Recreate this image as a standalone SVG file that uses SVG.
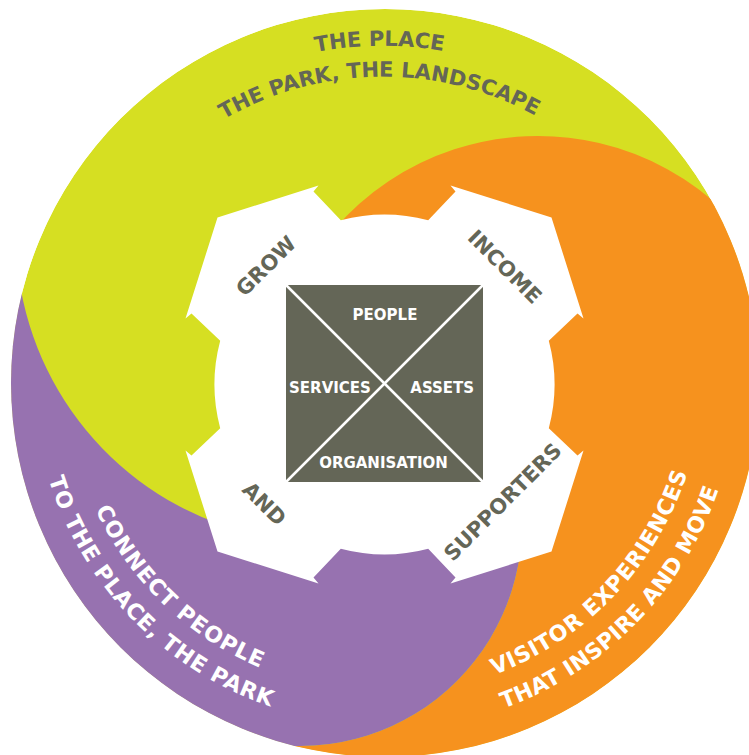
<svg xmlns="http://www.w3.org/2000/svg" width="749" height="755" viewBox="0 0 749 755">
<style>
.t{font-family:'DejaVu Sans','Liberation Sans',sans-serif;font-weight:bold}
.gray{fill:#646657}
.white{fill:#ffffff}
.ring{font-size:21px}
.ringb{font-size:22px}
.gl{font-size:21px}
.sq{font-size:15px}
</style>
<defs>
<clipPath id="disk"><circle cx="385" cy="383" r="374"/></clipPath>
<path id="pt1" d="M34.75,367.9 A349.3,349.3 0 0 1 730.66,361.22"/>
<path id="pt2" d="M65.59,371.13 A318.3,318.3 0 0 1 699.73,363.39"/>
<path id="pbl1" d="M135.46,176.18 A317.5,317.5 0 0 0 592.34,613.71"/>
<path id="pbl2" d="M117.42,146.5 A350.4,350.4 0 0 0 604.94,646.15"/>
<path id="pbr1" d="M183.17,624.43 A319.6,319.6 0 0 0 623.13,164.07"/>
<path id="pbr2" d="M157.74,648.86 A354.6,354.6 0 0 0 652.44,144.47"/>
</defs>
<rect width="749" height="755" fill="#ffffff"/>
<g id="rings" clip-path="url(#disk)">
<circle id="ring-green" cx="385" cy="383" r="374" fill="#d6df22"/>
<path id="ring-orange" fill="#f6921e" d="M294.2,291.3 A269,269 0 0 1 770.96,270.5 L900,270 L900,900 L261.45,900 L261.45,742.63 A222,222 0 0 0 518.63,485.45 L384.5,384.5 Z"/>
<path id="ring-purple" fill="#9772b0" d="M384.5,384.5 L518.63,485.45 A222,222 0 0 1 261.45,742.63 L261.45,900 L-100,900 L-100,277 L18.99,277.73 A307,307 0 0 0 269.69,537.34 Z"/>
</g>
<g id="gear">
<path fill="#ffffff" d="M340.8,220.2 A170,170 0 0 1 428.2,220.2 L455.5,191.5 L450.5,185.5 L551.5,217.5 L583.5,318.5 L577.5,313.5 L548.8,340.8 A170,170 0 0 1 548.8,428.2 L577.5,455.5 L583.5,450.5 L551.5,551.5 L450.5,583.5 L455.5,577.5 L428.2,548.8 A170,170 0 0 1 340.8,548.8 L313.5,577.5 L318.5,583.5 L217.5,551.5 L185.5,450.5 L191.5,455.5 L220.2,428.2 A170,170 0 0 1 220.2,340.8 L191.5,313.5 L185.5,318.5 L217.5,217.5 L318.5,185.5 L313.5,191.5 Z"/>
</g>
<g id="label-place">
<text class="t ring gray"><textPath href="#pt1" startOffset="50%" text-anchor="middle">THE PLACE</textPath></text>
<text class="t ring gray"><textPath href="#pt2" startOffset="50%" text-anchor="middle">THE PARK, THE LANDSCAPE</textPath></text>
</g>
<g id="label-connect">
<text class="t ringb white" letter-spacing="1"><textPath href="#pbl1" startOffset="50%" text-anchor="middle">CONNECT PEOPLE</textPath></text>
<text class="t ringb white" letter-spacing="0.8"><textPath href="#pbl2" startOffset="50%" text-anchor="middle">TO THE PLACE, THE PARK</textPath></text>
</g>
<g id="label-visitor">
<text class="t ringb white" letter-spacing="0.7"><textPath href="#pbr1" startOffset="50%" text-anchor="middle">VISITOR EXPERIENCES</textPath></text>
<text class="t ringb white" letter-spacing="0.3"><textPath href="#pbr2" startOffset="50%" text-anchor="middle">THAT INSPIRE AND MOVE</textPath></text>
</g>
<g id="gear-labels" class="t gl gray" text-anchor="middle">
<text id="grow" transform="translate(265.8,265.8) rotate(-45)" y="7.6">GROW</text>
<text id="income" transform="translate(505,266.5) rotate(45)" y="7.6">INCOME</text>
<text id="supporters" transform="translate(502.5,501.7) rotate(-45)" y="7.6">SUPPORTERS</text>
<text id="and" transform="translate(264.5,503.5) rotate(45)" y="7.6">AND</text>
</g>
<g id="core">
<rect x="286" y="285" width="197" height="197" fill="#646657"/>
<g stroke="#ffffff" stroke-width="2.5">
<line x1="286" y1="285" x2="483" y2="482"/>
<line x1="483" y1="285" x2="286" y2="482"/>
</g>
<g class="t sq white" text-anchor="middle">
<text x="385" y="319.5">PEOPLE</text>
<text x="330" y="393.3">SERVICES</text>
<text x="442.2" y="393.3">ASSETS</text>
<text x="383.5" y="468.3">ORGANISATION</text>
</g>
</g>
</svg>
